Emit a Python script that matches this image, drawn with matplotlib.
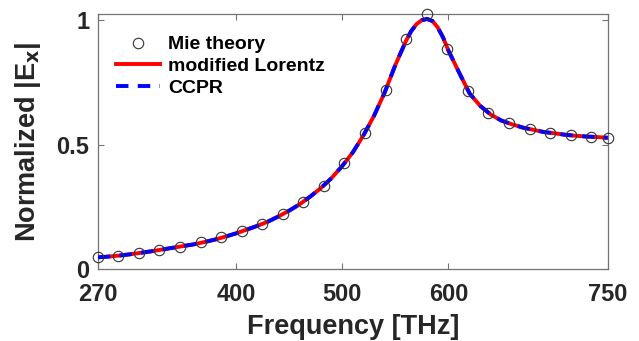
import matplotlib.pyplot as plt

plt.rcParams['font.family'] = ['Liberation Sans', 'DejaVu Sans']
plt.rcParams['font.weight'] = 'bold'

# Mie theory samples (circles)
mie_freq = [270.0, 289.4, 308.7, 328.1, 347.4, 366.8, 386.1, 405.5, 424.8,
            444.2, 463.5, 482.9, 502.2, 521.6, 540.9, 560.3, 579.6, 599.0,
            618.3, 637.7, 657.0, 676.4, 695.7, 715.1, 734.4, 750.0]
mie_val = [0.047, 0.053, 0.065, 0.078, 0.090, 0.108, 0.127, 0.151, 0.181,
           0.221, 0.270, 0.335, 0.424, 0.547, 0.719, 0.924, 1.024, 0.884,
           0.716, 0.625, 0.585, 0.562, 0.547, 0.537, 0.531, 0.527]

# fitted curves
fit_freq = [270, 280, 290, 300, 310, 320, 330, 340, 350, 360, 370, 380, 390,
            400, 410, 420, 430, 440, 450, 460, 470, 480, 490, 500, 510, 520,
            530, 540, 550, 560, 565, 570, 575, 580, 585, 590, 595, 600, 610,
            620, 630, 640, 650, 660, 670, 680, 690, 700, 710, 720, 730, 740,
            750]
lorentz_val = [0.047, 0.050, 0.054, 0.059, 0.065, 0.071, 0.078, 0.085, 0.092,
               0.099, 0.108, 0.118, 0.130, 0.143, 0.158, 0.173, 0.190, 0.211,
               0.234, 0.260, 0.291, 0.325, 0.365, 0.413, 0.468, 0.536, 0.615,
               0.708, 0.818, 0.915, 0.955, 0.983, 0.999, 1.004, 0.996, 0.970,
               0.930, 0.878, 0.790, 0.705, 0.655, 0.620, 0.596, 0.581, 0.568,
               0.559, 0.550, 0.545, 0.539, 0.535, 0.532, 0.530, 0.527]
ccpr_val = [0.047, 0.050, 0.054, 0.059, 0.065, 0.071, 0.078, 0.085, 0.092,
            0.099, 0.108, 0.118, 0.130, 0.143, 0.158, 0.173, 0.190, 0.211,
            0.234, 0.260, 0.291, 0.325, 0.365, 0.413, 0.468, 0.536, 0.615,
            0.708, 0.818, 0.915, 0.955, 0.983, 0.999, 1.004, 0.996, 0.970,
            0.930, 0.878, 0.790, 0.705, 0.655, 0.620, 0.596, 0.581, 0.568,
            0.559, 0.550, 0.545, 0.539, 0.535, 0.532, 0.530, 0.527]

xticks = [270, 400, 500, 600, 750]
yticks = [0, 0.5, 1]
ytick_labels = ['0', '0.5', '1']

fig = plt.figure(figsize=(6.39, 3.41), dpi=100)
ax = fig.add_axes([0.153, 0.211, 0.798, 0.748])

ax.plot(mie_freq, mie_val, 'o', mfc='none', mec=(0.2, 0.2, 0.2), ms=7.5,
        mew=0.8, label='Mie theory', clip_on=False, zorder=4)
ax.plot(fit_freq, lorentz_val, '-', color='red', lw=2.8,
        label='modified Lorentz', zorder=2)
ax.plot(fit_freq, ccpr_val, '--', color='blue', lw=2.8, dashes=(3.2, 2.4),
        label='CCPR', zorder=3)

ax.set_xlim(270, 750)
ax.set_ylim(0, 1.024)
ax.set_xticks(xticks)
ax.set_xticklabels([str(t) for t in xticks])
ax.set_yticks(yticks)
ax.set_yticklabels(ytick_labels)

spine_col = (0.45, 0.45, 0.45)
for s in ax.spines.values():
    s.set_color(spine_col)
    s.set_linewidth(0.9)
ax.tick_params(direction='in', top=True, right=True, length=4, width=0.8,
               color=spine_col, labelsize=17, labelcolor=(0.15, 0.15, 0.15))
ax.tick_params(axis='x', pad=10)
ax.tick_params(axis='y', pad=6)

ax.set_xlabel('Frequency [THz]', fontsize=19.5, fontweight='bold',
              color=(0.15, 0.15, 0.15), labelpad=6)
ax.set_ylabel(r'Normalized |E$_\mathbf{x}$|', fontsize=19.5,
              fontweight='bold', color=(0.15, 0.15, 0.15), labelpad=10)

ax.legend(loc='upper left', bbox_to_anchor=(0.02, 0.945), frameon=False,
          fontsize=14, handlelength=2.3, handletextpad=0.4,
          labelspacing=0.22, borderaxespad=0.0)

fig.savefig('out.png', dpi=100)
